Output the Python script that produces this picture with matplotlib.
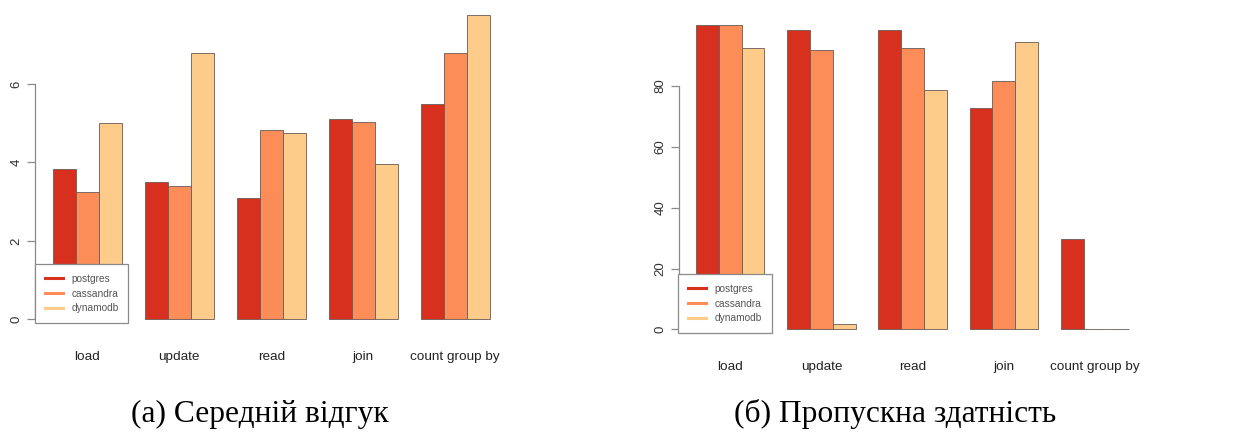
import numpy as np
import matplotlib.pyplot as plt
from matplotlib.lines import Line2D

# data
categories = ["load", "update", "read", "join", "count group by"]
systems = ["postgres", "cassandra", "dynamodb"]
colors = ["#d7301f", "#fc8d59", "#fdcc8a"]

# (a) mean response
resp_postgres = [3.84, 3.49, 3.09, 5.12, 5.50]
resp_cassandra = [3.24, 3.39, 4.82, 5.03, 6.78]
resp_dynamodb = [5.01, 6.80, 4.75, 3.95, 7.76]

# (b) throughput
thr_postgres = [100.0, 98.4, 98.4, 72.7, 29.6]
thr_cassandra = [100.0, 91.8, 92.5, 81.7, 0.0]
thr_dynamodb = [92.6, 1.7, 78.7, 94.5, 0.0]

resp_ticks = [0, 2, 4, 6]
thr_ticks = [0, 20, 40, 60, 80]

W, H = 1256, 446
fig = plt.figure(figsize=(W / 100, H / 100), dpi=100)
plt.rcParams['font.family'] = ['Liberation Sans', 'DejaVu Sans']


def px_axes(x0, x1, ytop, ybot):
    return fig.add_axes([x0 / W, 1 - ybot / H, (x1 - x0) / W, (ybot - ytop) / H])


def r_barplot(ax, series, ticks, ymax, legend_anchor):
    n = len(categories)
    # R style: 3 bars per group, one empty slot between groups
    starts = np.arange(n) * 4 + 1
    for i, (vals, c) in enumerate(zip(series, colors)):
        ax.bar(starts + i, vals, width=1.0, align='edge', color=c,
               edgecolor='#6a5a55', linewidth=0.6, label=systems[i])
    ax.set_xlim(0.24, 20.76)
    ax.set_ylim(-0.04 * ymax, 1.04 * ymax)
    for s in ['top', 'right', 'bottom']:
        ax.spines[s].set_visible(False)
    ax.spines['left'].set_bounds(ticks[0], ticks[-1])
    ax.spines['left'].set_color('#8a8a8a')
    ax.spines['left'].set_linewidth(0.9)
    ax.set_yticks(ticks)
    ax.set_yticklabels([str(t) for t in ticks], rotation=90, va='center',
                       fontsize=9.5, color='#333333')
    ax.tick_params(axis='y', direction='out', length=6, width=0.9,
                   color='#8a8a8a', pad=3)
    ax.set_xticks(starts + 1.5)
    ax.set_xticklabels(categories, fontsize=9.7, color='#222222')
    ax.tick_params(axis='x', length=0, pad=14)
    handles = [Line2D([], [], color=c, lw=2.2) for c in colors]
    leg = ax.legend(handles, systems, loc='lower left',
                    bbox_to_anchor=(legend_anchor[0] / W, 1 - legend_anchor[1] / H),
                    bbox_transform=fig.transFigure, fontsize=7.3,
                    handlelength=1.8, handletextpad=0.85, labelspacing=0.45,
                    borderpad=0.95, borderaxespad=0, fancybox=False,
                    frameon=True, framealpha=1)
    leg.get_frame().set_edgecolor('#8a8a8a')
    leg.get_frame().set_linewidth(0.9)
    for t in leg.get_texts():
        t.set_color('#555555')


ax1 = px_axes(35.2, 507.2, 2.9, 331.5)
r_barplot(ax1, [resp_postgres, resp_cassandra, resp_dynamodb], resp_ticks,
          7.76, (35.0, 322.7))

ax2 = px_axes(678.7, 1146.5, 13.1, 341.5)
r_barplot(ax2, [thr_postgres, thr_cassandra, thr_dynamodb], thr_ticks,
          100.0, (678.3, 332.7))

fig.text(260 / W, 1 - 414 / H, "(a) Середній відгук", ha='center', va='center',
         fontsize=22.7, family=['Liberation Serif', 'DejaVu Serif'], color='black')
fig.text(895 / W, 1 - 414 / H, "(б) Пропускна здатність", ha='center', va='center',
         fontsize=22.7, family=['Liberation Serif', 'DejaVu Serif'], color='black')

fig.savefig("out.png", dpi=100)
